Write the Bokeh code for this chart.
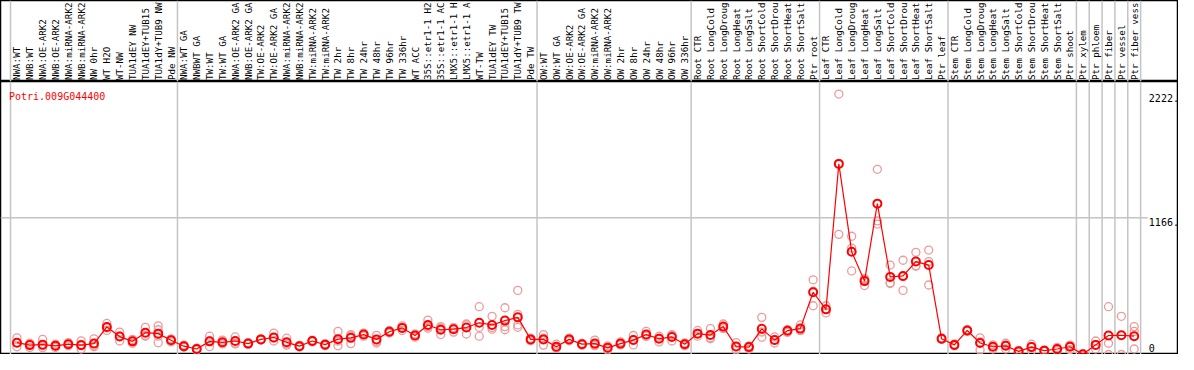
from itertools import accumulate
from bokeh.plotting import figure
from bokeh.layouts import column
from bokeh.models import Range1d, Span
from bokeh.core.properties import value
from bokeh.embed import file_html
from bokeh.resources import INLINE

gene = "Potri.009G044400"

group_sizes = [13, 28, 12, 10, 10, 10, 1, 1, 1, 1, 1]

# sample labels as they are visible in the reference (cut to 14 characters)
samples = [
    "NWA:WT", "NWB:WT", "NWA:OE-ARK2", "NWB:OE-ARK2", "NWA:miRNA-ARK2", "NWB:miRNA-ARK2",
    "NW 0hr", "WT H2O", "WT-NW", "TUA1dEY NW", "TUA1dEY+TUB15", "TUA1dY+TUB9 NW", "Pde NW",
    "NWA:WT GA", "NWBWT GA", "TW:WT", "TW:WT GA", "NWA:OE-ARK2 GA", "NWB:OE-ARK2 GA",
    "TW:OE-ARK2", "TW:OE-ARK2 GA", "NWA:miRNA-ARK2", "NWB:miRNA-ARK2", "TW:miRNA-ARK2",
    "TW:miRNA-ARK2", "TW 2hr", "TW 8hr", "TW 24hr", "TW 48hr", "TW 96hr", "TW 336hr", "WT ACC",
    "35S::etr1-1 H2", "35S::etr1-1 AC", "LMX5::etr1-1 H", "LMX5::etr1-1 A", "WT-TW",
    "TUA1dEY TW", "TUA1dEY+TUB15", "TUA1dY+TUB9 TW", "Pde TW",
    "OW:WT", "OW:WT GA", "OW:OE-ARK2", "OW:OE-ARK2 GA", "OW:miRNA-ARK2", "OW:miRNA-ARK2",
    "OW 2hr", "OW 8hr", "OW 24hr", "OW 48hr", "OW 96hr", "OW 336hr",
    "Root CTR", "Root LongCold", "Root LongDroug", "Root LongHeat", "Root LongSalt",
    "Root ShortCold", "Root ShortDrou", "Root ShortHeat", "Root ShortSalt", "Ptr root",
    "Leaf CTR", "Leaf LongCold", "Leaf LongDroug", "Leaf LongHeat", "Leaf LongSalt",
    "Leaf ShortCold", "Leaf ShortDrou", "Leaf ShortHeat", "Leaf ShortSalt", "Ptr leaf",
    "Stem CTR", "Stem LongCold", "Stem LongDroug", "Stem LongHeat", "Stem LongSalt",
    "Stem ShortCold", "Stem ShortDrou", "Stem ShortHeat", "Stem ShortSalt", "Ptr shoot",
    "Ptr xylem", "Ptr phloem", "Ptr fiber", "Ptr vessel", "Ptr fiber vess",
]

means = [
    101, 80, 84, 74, 88, 80, 93, 235, 153, 112, 186, 178, 121,
    71, 47, 112, 104, 115, 93, 129, 145, 104, 71, 115, 84, 131, 142, 170, 129, 194, 227,
    162, 252, 211, 216, 230, 271, 252, 289, 317, 129,
    129, 66, 129, 88, 93, 57, 93, 123, 170, 134, 150, 88,
    178, 166, 238, 68, 63, 219, 123, 203, 221, 531,
    385, 1626, 877, 626, 1287, 662, 670, 793, 763, 134,
    82, 205, 98, 66, 74, 27, 63, 33, 47, 66,
    2, 82, 162, 164, 156,
]

reps = [
    [142, 101, 66], [96, 84, 60], [129, 74, 57], [88, 74, 60], [101, 88, 74], [117, 74, 47],
    [134, 74, 66], [265, 227, 205], [191, 156, 115], [129, 115, 96], [232, 162, 156],
    [244, 211, 156, 101], [134, 123, 107],
    [80, 70, 62], [55, 47, 39], [156, 115, 68], [123, 98, 90], [150, 96, 90], [101, 90, 88],
    [134, 129, 123], [183, 139, 115], [139, 90, 80], [78, 71, 64], [123, 115, 107], [92, 84, 76],
    [197, 115, 74], [170, 160, 93], [183, 170, 156], [164, 112, 98], [205, 194, 183],
    [244, 227, 205], [175, 162, 148], [293, 238, 224], [238, 224, 170], [230, 226, 191],
    [260, 254, 175], [408, 232, 156], [326, 230, 216], [399, 238, 211], [547, 342, 252, 232],
    [139, 129, 117],
    [170, 139, 80], [88, 57, 53], [139, 129, 117], [95, 88, 80], [123, 80, 76], [74, 57, 39],
    [107, 90, 82], [162, 125, 82], [197, 156, 156], [156, 139, 107], [170, 164, 115], [98, 92, 74],
    [205, 178, 156], [221, 143, 134], [260, 233, 221], [101, 65, 39], [74, 68, 47],
    [317, 192, 148], [150, 121, 98], [211, 209, 189], [252, 208, 203], [637, 540, 416],
    [416, 385, 355], [2222, 1631, 1025], [1009, 908, 713], [648, 642, 588], [1580, 1140, 1113],
    [763, 613, 605], [804, 664, 547], [872, 757, 754], [891, 793, 593], [142, 134, 129],
    [90, 82, 74], [213, 205, 197], [142, 107, 39], [82, 69, 47], [96, 80, 47], [35, 27, 19],
    [88, 68, 33], [39, 33, 27], [60, 48, 33], [80, 76, 41],
    [4, 2, 0], [115, 84, 47], [408, 96, 0], [326, 0], [238, 197, 47],
]

y_ticks = [0, 1166, 2222]
y_tick_labels = ["0", "1166.", "2222."]

# ---------------------------------------------------------------- layout
n = len(samples)
xs = [i + 0.5 for i in range(n)]
bounds = [0] + list(accumulate(group_sizes))

W = 1178
H_TOP = 81
H_BOT = 273
FONT = value("DejaVu Sans Mono")
SEP = "#c4c4c4"

xr = Range1d(-0.78, 90.95)

top = figure(width=W, height=H_TOP, x_range=xr, y_range=Range1d(0, H_TOP),
             x_axis_type=None, y_axis_type=None, output_backend="svg",
             toolbar_location=None, min_border=0)
top.outline_line_color = "black"
top.outline_line_width = 1.5
top.background_fill_color = "white"
top.border_fill_color = "white"

top.text(x=xs, y=[1.5] * n, text=samples, angle=1.5707963, text_align="left",
         text_baseline="middle", text_font=FONT, text_font_size="9.2px",
         text_color="black")

bot = figure(width=W, height=H_BOT, x_range=xr, y_range=Range1d(0, 2329),
             x_axis_type=None, y_axis_type=None, output_backend="svg",
             toolbar_location=None, min_border=0)
bot.outline_line_color = "black"
bot.outline_line_width = 1.5
bot.background_fill_color = "white"
bot.border_fill_color = "white"
bot.extra_y_ranges = {"px": Range1d(0, H_BOT)}

for b in bounds:
    top.add_layout(Span(location=b, dimension="height", line_color=SEP,
                        line_width=1.5, level="underlay"))
    bot.add_layout(Span(location=b, dimension="height", line_color=SEP,
                        line_width=1.5, level="underlay"))

# gridline at middle tick
bot.segment(x0=[xr.start], y0=[y_ticks[1]], x1=[n + 0.55], y1=[y_ticks[1]],
            line_color=SEP, line_width=1.5)

# replicates
rx = [xs[i] for i, r in enumerate(reps) for _ in r]
ry = [v for r in reps for v in r]
bot.scatter(rx, ry, marker="circle", size=8, fill_color=None,
            line_color="#ee9a9a", line_width=1.3)

# means
bot.line(xs, means, line_color="red", line_width=1.2)
bot.scatter(xs, means, marker="circle", size=8, fill_color=None,
            line_color="red", line_width=2)

# y tick labels (inside frame, right side)
bot.text(x=[n + 0.64] * 2, y=y_ticks[1:], text=y_tick_labels[1:],
         text_align="left", text_baseline="top", text_font=FONT,
         text_font_size="10px", text_color="black")
bot.text(x=[n + 0.64], y=[3], text=y_tick_labels[:1], y_range_name="px",
         text_align="left", text_baseline="bottom", text_font=FONT,
         text_font_size="10px", text_color="black")

# gene name
bot.text(x=[-0.12], y=[H_BOT - 14.5], text=[gene], y_range_name="px",
         text_align="left", text_baseline="alphabetic", text_font=FONT,
         text_font_size="10px", text_color="red")

layout = column(top, bot, spacing=0)

open("out.html", "w").write(file_html(layout, INLINE))
